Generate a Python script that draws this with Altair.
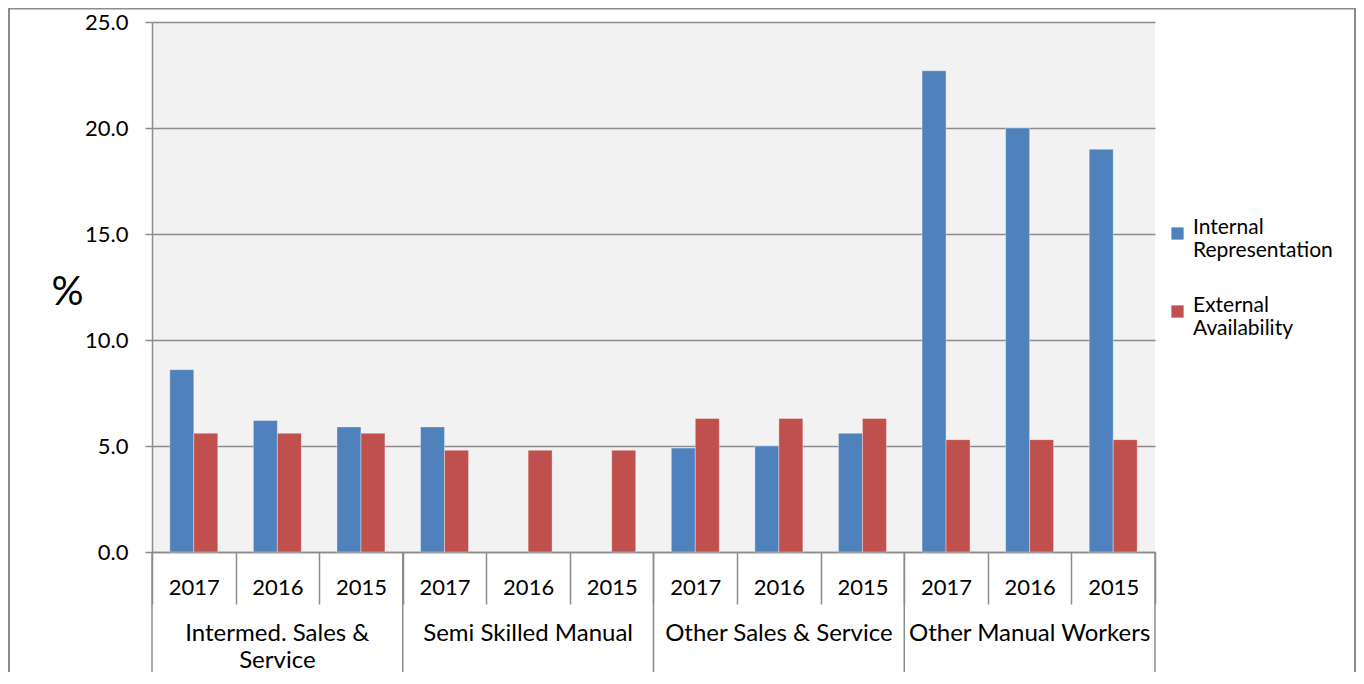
import altair as alt
import pandas as pd

groups = ["Intermed. Sales & Service", "Semi Skilled Manual",
          "Other Sales & Service", "Other Manual Workers"]
group_labels = ["Intermed. Sales &\nService", "Semi Skilled Manual",
                "Other Sales & Service", "Other Manual Workers"]
years = ["2017", "2016", "2015"]
series = ["Internal Representation", "External Availability"]
internal = [8.6, 6.2, 5.9, 5.9, None, None, 4.9, 5.0, 5.6, 22.7, 20.0, 19.0]
external = [5.6, 5.6, 5.6, 4.8, 4.8, 4.8, 6.3, 6.3, 6.3, 5.3, 5.3, 5.3]

BLUE = "#4f81bd"
RED = "#c0504d"
GREY = "#8c8c8c"
FONT = "Lato"

keys = [f"{g}|{y}" for g in groups for y in years]
rows = []
for i, k in enumerate(keys):
    rows.append({"key": k, "series": series[0], "value": internal[i]})
    rows.append({"key": k, "series": series[1], "value": external[i]})
df = pd.DataFrame(rows)

W, H = 1003, 530
TOP = 14

xscale = alt.Scale(domain=keys, paddingInner=0, paddingOuter=0)

bars = alt.Chart(df).mark_bar(stroke="#ffffff", strokeOpacity=0.45, strokeWidth=0.8).encode(
    x=alt.X("key:N", sort=keys, scale=xscale, title=None,
            axis=alt.Axis(labelExpr="split(datum.value, '|')[1]", labelAngle=0,
                          tickBand="extent", tickSize=52, tickColor=GREY, tickWidth=1.5,
                          domainColor=GREY, domainWidth=1.5, labelPadding=-27,
                          labelFontSize=22, labelColor="#000000", labelFont=FONT,
                          grid=False, title=None)),
    xOffset=alt.XOffset("series:N", sort=series,
                        scale=alt.Scale(domain=series, paddingInner=0, paddingOuter=0.742)),
    y=alt.Y("value:Q", scale=alt.Scale(domain=[0, 25]),
            axis=alt.Axis(values=[0, 5, 10, 15, 20, 25], format=".1f", title="%",
                          titleAngle=0, titleX=-85, titleY=270, titleAlign="center",
                          titleBaseline="middle", titleFontSize=40, titleFont=FONT,
                          titleFontWeight="normal", titleColor="#000000",
                          labelFontSize=22, labelFont=FONT, labelColor="#000000",
                          labelPadding=17, tickSize=7, tickColor=GREY, tickWidth=1.5,
                          domainColor=GREY, domainWidth=1.5, gridColor=GREY, gridWidth=1.5)),
    color=alt.Color("series:N", sort=series, scale=alt.Scale(domain=series, range=[BLUE, RED]),
                    legend=alt.Legend(title=None, orient="none", legendX=1015, legendY=201,
                                      symbolType="square", symbolSize=150, symbolStrokeWidth=0,
                                      labelFontSize=21, labelFont=FONT, labelColor="#000000",
                                      labelLimit=300, rowPadding=33, labelOffset=5,
                                      labelBaseline="alphabetic",
                                      labelExpr="datum.label == 'Internal Representation' ? ['Internal', 'Representation'] : ['External', 'Availability']")),
)

sep_df = pd.DataFrame({"key": [f"{g}|{years[0]}" for g in groups]})
end_df = pd.DataFrame({"key": [keys[-1]]})

seps = alt.Chart(sep_df).mark_rule(color=GREY, strokeWidth=1.5).encode(
    x=alt.X("key:N", bandPosition=0, title=None),
    y=alt.value(H), y2=alt.value(H + 200))
end_sep = alt.Chart(end_df).mark_rule(color=GREY, strokeWidth=1.5).encode(
    x=alt.X("key:N", bandPosition=1, title=None),
    y=alt.value(H), y2=alt.value(H + 200))

lab_df = pd.DataFrame({"key": [f"{g}|{years[1]}" for g in groups], "label": group_labels})
glabels = alt.Chart(lab_df).mark_text(lineBreak="\n", baseline="middle", align="center",
                                      fontSize=24, font=FONT, color="#000000",
                                      lineHeight=27).encode(
    x=alt.X("key:N", title=None), y=alt.value(H + 82), text="label:N")

one = pd.DataFrame({"a": [0]})
border_l = alt.Chart(one).mark_rule(color=GREY, strokeWidth=2).encode(
    x=alt.value(-143), y=alt.value(-TOP), y2=alt.value(H + 200))
border_t = alt.Chart(one).mark_rule(color=GREY, strokeWidth=2).encode(
    x=alt.value(-143), x2=alt.value(1203), y=alt.value(-TOP + 0.5))
border_r = alt.Chart(one).mark_rule(color=GREY, strokeWidth=2).encode(
    x=alt.value(1203), y=alt.value(-TOP), y2=alt.value(H + 200))

chart = alt.layer(bars, seps, end_sep, glabels, border_l, border_t, border_r).properties(
    width=W, height=H,
    padding={"left": 144, "top": TOP, "right": 201, "bottom": 120},
    autosize=alt.AutoSizeParams(type="none"),
).configure(background="#ffffff").configure_view(fill="#f2f2f2", stroke=None)

chart.save("out.html", embed_options={"renderer": "svg", "actions": False})
